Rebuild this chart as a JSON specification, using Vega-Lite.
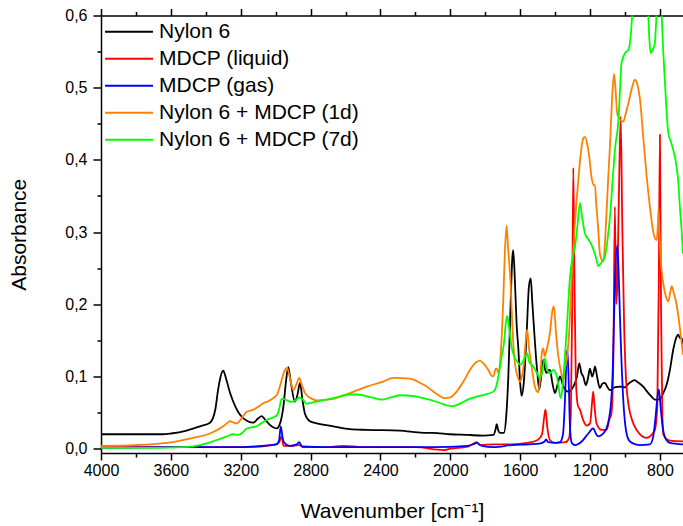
{
  "$schema": "https://vega.github.io/schema/vega-lite/v6.json",
  "width": 582,
  "height": 437.5,
  "autosize": {"type": "none"},
  "padding": {"left": 101, "top": 15.5, "right": 0, "bottom": 73},
  "background": "white",
  "config": {
    "view": {"stroke": null},
    "font": "Liberation Sans",
    "axis": {"domainColor": "black", "domainWidth": 1.5, "tickColor": "black", "tickWidth": 1.5, "labelColor": "black", "labelFont": "Liberation Sans", "labelFontSize": 16, "titleFont": "Liberation Sans", "titleFontSize": 21, "titleFontWeight": "normal", "titleColor": "black", "grid": false},
    "legend": {"labelFont": "Liberation Sans", "labelFontSize": 21, "labelColor": "black", "labelLimit": 0}
  },
  "datasets": {
    "nylon": [
      {"w":4000,"a":0.020},{"w":3800,"a":0.020},{"w":3650,"a":0.020},{"w":3600,"a":0.021},{"w":3510,"a":0.025},{"w":3433,"a":0.031},{"w":3376,"a":0.036},{"w":3345,"a":0.055},{"w":3330,"a":0.081},{"w":3315,"a":0.100},{"w":3300,"a":0.108},{"w":3285,"a":0.098},{"w":3261,"a":0.077},{"w":3230,"a":0.058},{"w":3204,"a":0.047},{"w":3160,"a":0.038},{"w":3128,"a":0.036},{"w":3100,"a":0.042},{"w":3080,"a":0.045},{"w":3060,"a":0.040},{"w":3033,"a":0.033},{"w":2994,"a":0.028},{"w":2975,"a":0.035},{"w":2956,"a":0.058},{"w":2940,"a":0.095},{"w":2928,"a":0.113},{"w":2915,"a":0.095},{"w":2890,"a":0.065},{"w":2875,"a":0.075},{"w":2861,"a":0.091},{"w":2845,"a":0.065},{"w":2832,"a":0.048},{"w":2804,"a":0.038},{"w":2765,"a":0.035},{"w":2670,"a":0.031},{"w":2575,"a":0.027},{"w":2479,"a":0.026},{"w":2288,"a":0.025},{"w":2155,"a":0.022},{"w":2100,"a":0.022},{"w":2002,"a":0.020},{"w":1900,"a":0.019},{"w":1812,"a":0.018},{"w":1754,"a":0.019},{"w":1740,"a":0.028},{"w":1735,"a":0.034},{"w":1725,"a":0.025},{"w":1716,"a":0.022},{"w":1693,"a":0.022},{"w":1680,"a":0.045},{"w":1668,"a":0.100},{"w":1655,"a":0.200},{"w":1645,"a":0.265},{"w":1640,"a":0.275},{"w":1630,"a":0.230},{"w":1620,"a":0.170},{"w":1611,"a":0.140},{"w":1600,"a":0.090},{"w":1592,"a":0.073},{"w":1580,"a":0.090},{"w":1563,"a":0.160},{"w":1550,"a":0.225},{"w":1540,"a":0.236},{"w":1530,"a":0.200},{"w":1515,"a":0.145},{"w":1500,"a":0.100},{"w":1491,"a":0.082},{"w":1480,"a":0.100},{"w":1468,"a":0.123},{"w":1458,"a":0.110},{"w":1449,"a":0.105},{"w":1440,"a":0.108},{"w":1430,"a":0.109},{"w":1415,"a":0.090},{"w":1401,"a":0.077},{"w":1385,"a":0.090},{"w":1372,"a":0.100},{"w":1353,"a":0.086},{"w":1325,"a":0.079},{"w":1296,"a":0.086},{"w":1275,"a":0.100},{"w":1262,"a":0.118},{"w":1250,"a":0.105},{"w":1239,"a":0.100},{"w":1224,"a":0.088},{"w":1210,"a":0.100},{"w":1201,"a":0.111},{"w":1188,"a":0.100},{"w":1180,"a":0.105},{"w":1172,"a":0.114},{"w":1160,"a":0.100},{"w":1144,"a":0.084},{"w":1130,"a":0.090},{"w":1115,"a":0.091},{"w":1100,"a":0.085},{"w":1086,"a":0.081},{"w":1060,"a":0.085},{"w":1029,"a":0.086},{"w":1000,"a":0.085},{"w":980,"a":0.090},{"w":962,"a":0.093},{"w":945,"a":0.095},{"w":933,"a":0.093},{"w":915,"a":0.090},{"w":896,"a":0.086},{"w":870,"a":0.078},{"w":848,"a":0.072},{"w":830,"a":0.068},{"w":810,"a":0.068},{"w":795,"a":0.070},{"w":781,"a":0.077},{"w":760,"a":0.090},{"w":743,"a":0.109},{"w":724,"a":0.137},{"w":705,"a":0.155},{"w":695,"a":0.158},{"w":685,"a":0.153},{"w":676,"a":0.153},{"w":668,"a":0.145}
    ],
    "liquid": [
      {"w":4000,"a":0.002},{"w":3600,"a":0.002},{"w":3200,"a":0.002},{"w":3050,"a":0.004},{"w":3000,"a":0.006},{"w":2980,"a":0.009},{"w":2966,"a":0.017},{"w":2955,"a":0.004},{"w":2900,"a":0.004},{"w":2865,"a":0.005},{"w":2840,"a":0.002},{"w":2700,"a":0.002},{"w":2613,"a":0.004},{"w":2500,"a":0.002},{"w":2200,"a":0.002},{"w":2040,"a":-0.002},{"w":2000,"a":0.000},{"w":1900,"a":0.003},{"w":1860,"a":0.008},{"w":1850,"a":0.009},{"w":1830,"a":0.005},{"w":1750,"a":0.006},{"w":1650,"a":0.006},{"w":1560,"a":0.008},{"w":1500,"a":0.012},{"w":1475,"a":0.020},{"w":1462,"a":0.045},{"w":1455,"a":0.054},{"w":1445,"a":0.030},{"w":1430,"a":0.012},{"w":1400,"a":0.008},{"w":1340,"a":0.009},{"w":1320,"a":0.015},{"w":1310,"a":0.050},{"w":1302,"a":0.200},{"w":1296,"a":0.389},{"w":1290,"a":0.250},{"w":1282,"a":0.100},{"w":1270,"a":0.060},{"w":1258,"a":0.054},{"w":1240,"a":0.040},{"w":1220,"a":0.032},{"w":1200,"a":0.035},{"w":1190,"a":0.060},{"w":1182,"a":0.079},{"w":1175,"a":0.060},{"w":1163,"a":0.035},{"w":1134,"a":0.026},{"w":1105,"a":0.026},{"w":1090,"a":0.040},{"w":1077,"a":0.050},{"w":1067,"a":0.120},{"w":1058,"a":0.335},{"w":1051,"a":0.200},{"w":1045,"a":0.220},{"w":1035,"a":0.350},{"w":1025,"a":0.460},{"w":1015,"a":0.300},{"w":1005,"a":0.170},{"w":995,"a":0.100},{"w":985,"a":0.070},{"w":960,"a":0.040},{"w":933,"a":0.026},{"w":876,"a":0.015},{"w":845,"a":0.020},{"w":829,"a":0.026},{"w":815,"a":0.060},{"w":806,"a":0.250},{"w":800,"a":0.435},{"w":794,"a":0.200},{"w":787,"a":0.060},{"w":781,"a":0.020},{"w":760,"a":0.013},{"w":743,"a":0.011},{"w":668,"a":0.010}
    ],
    "gas": [
      {"w":4000,"a":0.001},{"w":3600,"a":0.002},{"w":3200,"a":0.002},{"w":3033,"a":0.005},{"w":2994,"a":0.006},{"w":2980,"a":0.012},{"w":2971,"a":0.031},{"w":2960,"a":0.015},{"w":2950,"a":0.008},{"w":2920,"a":0.004},{"w":2880,"a":0.006},{"w":2865,"a":0.009},{"w":2850,"a":0.003},{"w":2700,"a":0.002},{"w":2400,"a":0.002},{"w":2100,"a":0.002},{"w":1900,"a":0.004},{"w":1860,"a":0.007},{"w":1850,"a":0.008},{"w":1820,"a":0.004},{"w":1750,"a":0.002},{"w":1650,"a":0.005},{"w":1550,"a":0.006},{"w":1490,"a":0.007},{"w":1460,"a":0.010},{"w":1453,"a":0.013},{"w":1440,"a":0.009},{"w":1400,"a":0.008},{"w":1372,"a":0.009},{"w":1355,"a":0.020},{"w":1345,"a":0.060},{"w":1335,"a":0.125},{"w":1330,"a":0.137},{"w":1322,"a":0.090},{"w":1315,"a":0.030},{"w":1305,"a":0.008},{"w":1286,"a":0.005},{"w":1248,"a":0.010},{"w":1210,"a":0.021},{"w":1182,"a":0.028},{"w":1165,"a":0.020},{"w":1153,"a":0.017},{"w":1115,"a":0.024},{"w":1086,"a":0.050},{"w":1070,"a":0.110},{"w":1058,"a":0.229},{"w":1044,"a":0.282},{"w":1036,"a":0.240},{"w":1029,"a":0.183},{"w":1010,"a":0.068},{"w":991,"a":0.021},{"w":972,"a":0.010},{"w":940,"a":0.006},{"w":914,"a":0.005},{"w":858,"a":0.006},{"w":840,"a":0.015},{"w":825,"a":0.044},{"w":815,"a":0.070},{"w":806,"a":0.082},{"w":797,"a":0.060},{"w":787,"a":0.035},{"w":770,"a":0.015},{"w":743,"a":0.008},{"w":668,"a":0.006}
    ],
    "d1": [
      {"w":4000,"a":0.004},{"w":3800,"a":0.005},{"w":3624,"a":0.008},{"w":3471,"a":0.015},{"w":3376,"a":0.021},{"w":3300,"a":0.031},{"w":3275,"a":0.036},{"w":3261,"a":0.038},{"w":3240,"a":0.036},{"w":3223,"a":0.035},{"w":3190,"a":0.044},{"w":3166,"a":0.051},{"w":3128,"a":0.054},{"w":3100,"a":0.058},{"w":3071,"a":0.063},{"w":3040,"a":0.066},{"w":3014,"a":0.070},{"w":2990,"a":0.076},{"w":2976,"a":0.086},{"w":2960,"a":0.100},{"w":2947,"a":0.109},{"w":2935,"a":0.112},{"w":2920,"a":0.100},{"w":2899,"a":0.081},{"w":2880,"a":0.090},{"w":2865,"a":0.098},{"w":2850,"a":0.088},{"w":2832,"a":0.077},{"w":2800,"a":0.070},{"w":2765,"a":0.067},{"w":2700,"a":0.068},{"w":2670,"a":0.069},{"w":2575,"a":0.077},{"w":2479,"a":0.086},{"w":2384,"a":0.093},{"w":2327,"a":0.098},{"w":2231,"a":0.097},{"w":2180,"a":0.092},{"w":2136,"a":0.086},{"w":2080,"a":0.076},{"w":2031,"a":0.070},{"w":2000,"a":0.071},{"w":1964,"a":0.079},{"w":1920,"a":0.095},{"w":1888,"a":0.109},{"w":1850,"a":0.120},{"w":1831,"a":0.122},{"w":1810,"a":0.118},{"w":1783,"a":0.109},{"w":1760,"a":0.100},{"w":1750,"a":0.102},{"w":1740,"a":0.111},{"w":1735,"a":0.111},{"w":1725,"a":0.105},{"w":1715,"a":0.120},{"w":1697,"a":0.206},{"w":1688,"a":0.270},{"w":1678,"a":0.309},{"w":1670,"a":0.280},{"w":1655,"a":0.229},{"w":1645,"a":0.170},{"w":1630,"a":0.118},{"w":1615,"a":0.100},{"w":1601,"a":0.093},{"w":1590,"a":0.100},{"w":1579,"a":0.118},{"w":1568,"a":0.150},{"w":1560,"a":0.165},{"w":1550,"a":0.140},{"w":1535,"a":0.114},{"w":1515,"a":0.085},{"w":1497,"a":0.078},{"w":1485,"a":0.100},{"w":1475,"a":0.135},{"w":1468,"a":0.139},{"w":1459,"a":0.128},{"w":1449,"a":0.137},{"w":1430,"a":0.160},{"w":1415,"a":0.192},{"w":1407,"a":0.197},{"w":1395,"a":0.160},{"w":1382,"a":0.128},{"w":1365,"a":0.105},{"w":1353,"a":0.095},{"w":1345,"a":0.110},{"w":1334,"a":0.123},{"w":1320,"a":0.160},{"w":1305,"a":0.238},{"w":1290,"a":0.300},{"w":1277,"a":0.345},{"w":1268,"a":0.370},{"w":1255,"a":0.405},{"w":1239,"a":0.430},{"w":1229,"a":0.432},{"w":1215,"a":0.420},{"w":1205,"a":0.405},{"w":1191,"a":0.375},{"w":1180,"a":0.365},{"w":1172,"a":0.365},{"w":1165,"a":0.340},{"w":1153,"a":0.303},{"w":1144,"a":0.270},{"w":1134,"a":0.262},{"w":1124,"a":0.259},{"w":1115,"a":0.285},{"w":1105,"a":0.331},{"w":1095,"a":0.380},{"w":1086,"a":0.420},{"w":1075,"a":0.480},{"w":1063,"a":0.519},{"w":1055,"a":0.500},{"w":1045,"a":0.465},{"w":1039,"a":0.460},{"w":1025,"a":0.455},{"w":1010,"a":0.453},{"w":995,"a":0.465},{"w":981,"a":0.478},{"w":960,"a":0.500},{"w":943,"a":0.511},{"w":930,"a":0.505},{"w":914,"a":0.483},{"w":895,"a":0.430},{"w":876,"a":0.377},{"w":855,"a":0.330},{"w":838,"a":0.300},{"w":825,"a":0.290},{"w":819,"a":0.289},{"w":812,"a":0.310},{"w":808,"a":0.333},{"w":803,"a":0.300},{"w":795,"a":0.260},{"w":781,"a":0.229},{"w":765,"a":0.210},{"w":752,"a":0.204},{"w":740,"a":0.218},{"w":733,"a":0.225},{"w":720,"a":0.215},{"w":705,"a":0.200},{"w":690,"a":0.175},{"w":668,"a":0.130}
    ],
    "d7": [
      {"w":4000,"a":0.001},{"w":3700,"a":0.001},{"w":3529,"a":0.002},{"w":3433,"a":0.005},{"w":3338,"a":0.012},{"w":3280,"a":0.017},{"w":3243,"a":0.020},{"w":3215,"a":0.019},{"w":3190,"a":0.022},{"w":3166,"a":0.028},{"w":3109,"a":0.031},{"w":3052,"a":0.040},{"w":2994,"a":0.046},{"w":2980,"a":0.055},{"w":2966,"a":0.069},{"w":2945,"a":0.068},{"w":2918,"a":0.065},{"w":2890,"a":0.066},{"w":2865,"a":0.071},{"w":2845,"a":0.068},{"w":2823,"a":0.062},{"w":2804,"a":0.063},{"w":2750,"a":0.066},{"w":2670,"a":0.070},{"w":2575,"a":0.075},{"w":2536,"a":0.075},{"w":2450,"a":0.071},{"w":2393,"a":0.068},{"w":2340,"a":0.071},{"w":2288,"a":0.074},{"w":2220,"a":0.073},{"w":2155,"a":0.070},{"w":2080,"a":0.065},{"w":2020,"a":0.060},{"w":1983,"a":0.059},{"w":1940,"a":0.063},{"w":1900,"a":0.068},{"w":1850,"a":0.072},{"w":1800,"a":0.075},{"w":1754,"a":0.079},{"w":1735,"a":0.088},{"w":1720,"a":0.107},{"w":1708,"a":0.125},{"w":1693,"a":0.146},{"w":1682,"a":0.175},{"w":1674,"a":0.184},{"w":1665,"a":0.170},{"w":1649,"a":0.141},{"w":1630,"a":0.125},{"w":1615,"a":0.120},{"w":1601,"a":0.116},{"w":1585,"a":0.120},{"w":1570,"a":0.128},{"w":1560,"a":0.132},{"w":1548,"a":0.120},{"w":1526,"a":0.114},{"w":1505,"a":0.105},{"w":1487,"a":0.098},{"w":1475,"a":0.105},{"w":1459,"a":0.125},{"w":1449,"a":0.112},{"w":1430,"a":0.104},{"w":1411,"a":0.109},{"w":1392,"a":0.102},{"w":1380,"a":0.085},{"w":1369,"a":0.070},{"w":1360,"a":0.080},{"w":1344,"a":0.128},{"w":1330,"a":0.180},{"w":1315,"a":0.238},{"w":1300,"a":0.265},{"w":1286,"a":0.280},{"w":1272,"a":0.310},{"w":1258,"a":0.340},{"w":1245,"a":0.320},{"w":1229,"a":0.298},{"w":1210,"a":0.290},{"w":1191,"a":0.282},{"w":1170,"a":0.268},{"w":1153,"a":0.253},{"w":1135,"a":0.258},{"w":1115,"a":0.266},{"w":1100,"a":0.290},{"w":1086,"a":0.321},{"w":1067,"a":0.385},{"w":1055,"a":0.420},{"w":1039,"a":0.451},{"w":1030,"a":0.490},{"w":1020,"a":0.534},{"w":1000,"a":0.548},{"w":981,"a":0.552},{"w":968,"a":0.570},{"w":956,"a":0.610},{"w":930,"a":0.660},{"w":900,"a":0.660},{"w":880,"a":0.630},{"w":867,"a":0.600},{"w":860,"a":0.565},{"w":853,"a":0.548},{"w":840,"a":0.553},{"w":829,"a":0.562},{"w":822,"a":0.590},{"w":810,"a":0.660},{"w":795,"a":0.630},{"w":790,"a":0.600},{"w":781,"a":0.550},{"w":771,"a":0.506},{"w":760,"a":0.460},{"w":752,"a":0.437},{"w":737,"a":0.425},{"w":724,"a":0.414},{"w":705,"a":0.391},{"w":695,"a":0.370},{"w":686,"a":0.335},{"w":675,"a":0.300},{"w":668,"a":0.270}
    ]
  },
  "resolve": {"axis": {"x": "independent", "y": "independent"}},
  "encoding": {
    "x": {"field": "w", "type": "quantitative", "scale": {"domain": [668, 4000], "reverse": true, "nice": false, "zero": false}},
    "y": {"field": "a", "type": "quantitative", "scale": {"domain": [-0.006, 0.6], "nice": false, "zero": false}},
    "color": {"datum": "Nylon 6", "type": "nominal", "scale": {"domain": ["Nylon 6", "MDCP (liquid)", "MDCP (gas)", "Nylon 6 + MDCP (1d)", "Nylon 6 + MDCP (7d)"], "range": ["#000000", "#ff0000", "#0000ff", "#ff8000", "#00ff00"]}}
  },
  "layer": [
    {
      "data": {"name": "nylon"},
      "mark": {"type": "line", "clip": true, "strokeWidth": 1.8, "interpolate": "monotone"},
      "encoding": {
        "x": {"field": "w", "type": "quantitative", "title": "Wavenumber [cm⁻¹]", "axis": {"orient": "bottom", "values": [4000,3800,3600,3400,3200,3000,2800,2600,2400,2200,2000,1800,1600,1400,1200,1000,800], "format": "d", "labelExpr": "datum.value % 400 === 0 ? datum.label : ''", "tickSize": {"expr": "datum.value % 400 === 0 ? 7 : 4"}, "labelPadding": 2, "titlePadding": 22, "labelFlush": false, "labelOverlap": false}},
        "y": {"field": "a", "type": "quantitative", "title": "Absorbance", "axis": {"orient": "left", "values": [0, 0.05, 0.1, 0.15, 0.2, 0.25, 0.3, 0.35, 0.4, 0.45, 0.5, 0.55, 0.6], "labelExpr": "round(datum.value * 100) % 10 === 0 ? replace(format(datum.value, '.1f'), '.', ',') : ''", "tickSize": {"expr": "round(datum.value * 100) % 10 === 0 ? 8 : 4"}, "labelPadding": 6, "titlePadding": 35, "labelFlush": false, "labelOverlap": false}},
        "color": {"datum": "Nylon 6", "type": "nominal", "legend": {"orient": "none", "legendX": 3, "legendY": 3, "symbolType": "stroke", "symbolSize": 2304, "symbolStrokeWidth": 2, "labelOffset": 5, "clipHeight": 26.5, "rowPadding": 0, "padding": 0, "title": null, "labelFontSize": 21, "labelLimit": 0, "labelFont": "Liberation Sans"}}
      }
    },
    {
      "data": {"name": "liquid"},
      "mark": {"type": "line", "clip": true, "strokeWidth": 1.8, "interpolate": "monotone"},
      "encoding": {
        "x": {"field": "w", "type": "quantitative", "axis": {"orient": "top", "values": [4000,3800,3600,3400,3200,3000,2800,2600,2400,2200,2000,1800,1600,1400,1200,1000,800], "labels": false, "title": null, "tickSize": {"expr": "datum.value % 400 === 0 ? 7 : 4"}}},
        "y": {"field": "a", "type": "quantitative", "axis": null},
        "color": {"datum": "MDCP (liquid)", "type": "nominal"}
      }
    },
    {
      "data": {"name": "gas"},
      "mark": {"type": "line", "clip": true, "strokeWidth": 1.8, "interpolate": "monotone"},
      "encoding": {
        "x": {"field": "w", "type": "quantitative", "axis": null},
        "y": {"field": "a", "type": "quantitative", "axis": null},
        "color": {"datum": "MDCP (gas)", "type": "nominal"}
      }
    },
    {
      "data": {"name": "d1"},
      "mark": {"type": "line", "clip": true, "strokeWidth": 1.8, "interpolate": "monotone"},
      "encoding": {
        "x": {"field": "w", "type": "quantitative", "axis": null},
        "y": {"field": "a", "type": "quantitative", "axis": null},
        "color": {"datum": "Nylon 6 + MDCP (1d)", "type": "nominal"}
      }
    },
    {
      "data": {"name": "d7"},
      "mark": {"type": "line", "clip": true, "strokeWidth": 1.8, "interpolate": "monotone"},
      "encoding": {
        "x": {"field": "w", "type": "quantitative", "axis": null},
        "y": {"field": "a", "type": "quantitative", "axis": null},
        "color": {"datum": "Nylon 6 + MDCP (7d)", "type": "nominal"}
      }
    }
  ]
}
